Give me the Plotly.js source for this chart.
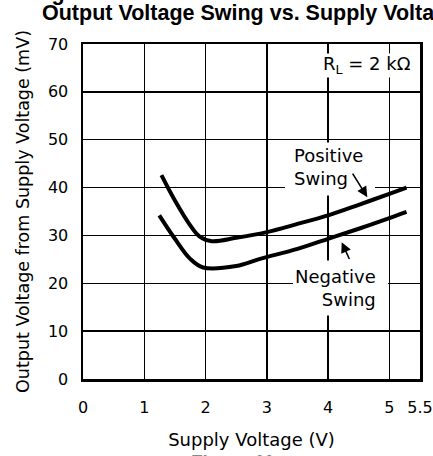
<!DOCTYPE html>
<html>
<head>
<meta charset="utf-8">
<script src="https://cdn.plot.ly/plotly-3.0.1.min.js"></script>
<style>html,body{margin:0;padding:0;background:#fff;}#chart{width:433px;height:456px;}</style>
</head>
<body>
<div id="chart"></div>
<script>
// Data
var posX = [1.28, 1.5, 1.75, 1.9, 2.1, 2.5, 3.0, 3.5, 4.0, 4.5, 5.0, 5.28];
var posY = [42.6, 37.3, 32.1, 29.8, 28.8, 29.5, 30.7, 32.4, 34.2, 36.4, 38.7, 40.0];
var negX = [1.245, 1.5, 1.75, 1.96, 2.5, 2.89, 3.5, 4.0, 4.5, 5.0, 5.28];
var negY = [34.2, 29.3, 25.1, 23.3, 23.6, 25.1, 27.2, 29.3, 31.4, 33.6, 34.9];
var xTickVals = [0, 1, 2, 3, 4, 5, 5.5];
var xTickText = ['0', '1', '2', '3', '4', '5', '5.5'];
var yTickVals = [0, 10, 20, 30, 40, 50, 60, 70];
var yTickText = ['0', '10', '20', '30', '40', '50', '60', '70'];

var FONT = 'DejaVu Sans, sans-serif';

var traces = [
  {x: posX, y: posY, mode: 'lines', line: {color: '#000', width: 4, shape: 'spline', smoothing: 1}, hoverinfo: 'skip'},
  {x: negX, y: negY, mode: 'lines', line: {color: '#000', width: 4, shape: 'spline', smoothing: 1}, hoverinfo: 'skip'}
];

function px2x(p) { return (p - 83) / 61.27; }
function px2y(p) { return (378.5 - p) / 4.785; }
function ppy(p) { return (379 - p) / 335; }
function ppx(p) { return (p - 83) / 337; }

var layout = {
  width: 433, height: 456,
  margin: {l: 83, r: 13, t: 44, b: 77},
  paper_bgcolor: '#fff', plot_bgcolor: '#fff',
  showlegend: false,
  font: {family: FONT, color: '#000'},
  xaxis: {
    range: [0, 5.5], tickvals: xTickVals, ticktext: xTickText,
    showgrid: true, gridcolor: '#000', gridwidth: 1.5,
    showline: true, linecolor: '#000', linewidth: 2.5, mirror: true,
    zeroline: false, ticks: '', ticklabelstandoff: 12,
    tickfont: {family: FONT, size: 16, color: '#000'},
    title: {text: 'Supply Voltage (V)', font: {family: FONT, size: 18, color: '#000'}, standoff: 18},
    automargin: false, fixedrange: true
  },
  yaxis: {
    range: [0, 70], tickvals: yTickVals, ticktext: yTickText,
    showgrid: true, gridcolor: '#000', gridwidth: 1.5,
    showline: true, linecolor: '#000', linewidth: 2.5, mirror: true,
    zeroline: false, ticks: '', ticklabelstandoff: 9,
    tickfont: {family: FONT, size: 16, color: '#000'},
    title: {text: 'Output Voltage from Supply Voltage (mV)', font: {family: FONT, size: 17.5, color: '#000'}, standoff: 14},
    automargin: false, fixedrange: true
  },
  shapes: [
    {type: 'rect', layer: 'between', xref: 'x', yref: 'y', x0: px2x(318), x1: px2x(416), y0: px2y(77), y1: px2y(53), fillcolor: '#fff', line: {width: 0}},
    {type: 'rect', layer: 'between', xref: 'x', yref: 'y', x0: px2x(285), x1: px2x(375), y0: px2y(195), y1: px2y(142), fillcolor: '#fff', line: {width: 0}},
    {type: 'rect', layer: 'between', xref: 'x', yref: 'y', x0: px2x(293), x1: px2x(388), y0: px2y(315), y1: px2y(260), fillcolor: '#fff', line: {width: 0}}
  ],
  annotations: [
    {xref: 'x', yref: 'y', x: px2x(367), y: px2y(65), text: 'R<sub>L</sub> = 2 kΩ', showarrow: false,
     font: {family: FONT, size: 18, color: '#000'}},
    {xref: 'x', yref: 'y', x: px2x(292), y: px2y(167), xanchor: 'left', align: 'left', text: 'Positive<br>Swing', showarrow: false,
     font: {family: FONT, size: 18, color: '#000'}},
    {xref: 'x', yref: 'y', x: px2x(378), y: px2y(288), xanchor: 'right', align: 'right', text: 'Negative<br>Swing', showarrow: false,
     font: {family: FONT, size: 18, color: '#000'}},
    {xref: 'x', yref: 'y', axref: 'x', ayref: 'y', x: px2x(367.3), y: px2y(196.7), ax: px2x(351.7), ay: px2y(171.7), text: '',
     showarrow: true, arrowhead: 2, arrowsize: 1.3, arrowwidth: 1.6, arrowcolor: '#000', standoff: 0, startstandoff: 0},
    {xref: 'x', yref: 'y', axref: 'x', ayref: 'y', x: px2x(341.7), y: px2y(241.7), ax: px2x(350), ay: px2y(260), text: '',
     showarrow: true, arrowhead: 2, arrowsize: 1.3, arrowwidth: 1.6, arrowcolor: '#000', standoff: 0, startstandoff: 0},
    {xref: 'paper', yref: 'paper', x: ppx(225), y: ppy(-7), xanchor: 'center', yanchor: 'middle', text: '<b>Negative Rail at 25°C and 85°C V+ = 5 V</b>', showarrow: false,
     font: {family: 'Liberation Sans, Arial, sans-serif', size: 21.5, color: '#000'}},
    {xref: 'paper', yref: 'paper', x: ppx(40), y: ppy(13), xanchor: 'left', yanchor: 'middle', text: '<b>Output Voltage Swing vs. Supply Voltage</b>', showarrow: false,
     font: {family: 'Liberation Sans, Arial, sans-serif', size: 21.5, color: '#000'}},
    {xref: 'paper', yref: 'paper', x: ppx(235), y: ppy(461), xanchor: 'center', yanchor: 'middle', text: '<b>Figure 11.</b>', showarrow: false,
     font: {family: 'Liberation Sans, Arial, sans-serif', size: 19, color: '#888'}}
  ]
};

Plotly.newPlot('chart', traces, layout, {staticPlot: true, displayModeBar: false});
</script>
</body>
</html>
